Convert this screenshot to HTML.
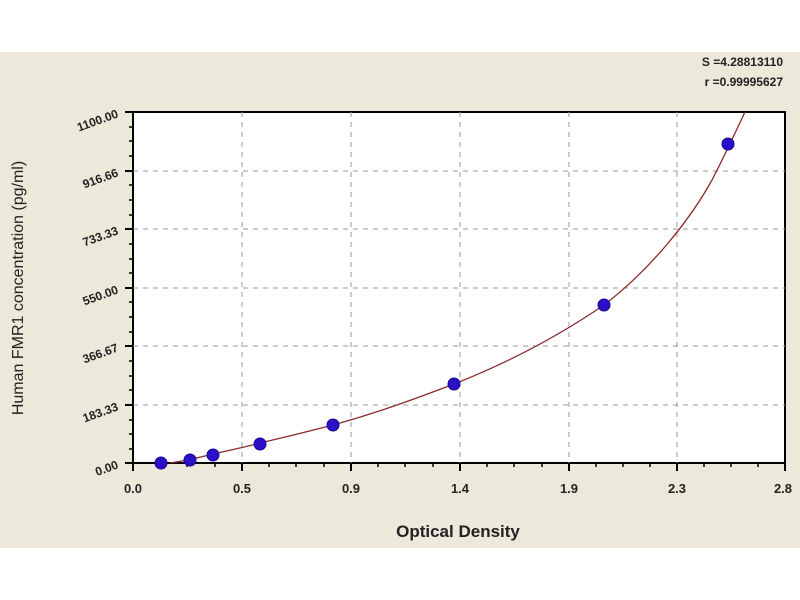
<!DOCTYPE html>
<html><head><meta charset="utf-8"><style>
html,body{margin:0;padding:0;background:#fff;}
svg{display:block;font-family:"Liberation Sans",sans-serif;}
</style></head><body>
<svg width="800" height="600" viewBox="0 0 800 600">
<rect x="0" y="52" width="800" height="496" fill="#ece8da"/>
<rect x="133" y="112" width="652" height="351" fill="#fff" stroke="#000" stroke-width="2"/>
<g stroke="#999" stroke-width="1" stroke-dasharray="5,5">
<line x1="242" y1="112" x2="242" y2="463"/><line x1="351" y1="112" x2="351" y2="463"/>
<line x1="460" y1="112" x2="460" y2="463"/><line x1="569" y1="112" x2="569" y2="463"/>
<line x1="677" y1="112" x2="677" y2="463"/>
<line x1="133" y1="171" x2="785" y2="171"/><line x1="133" y1="229" x2="785" y2="229"/>
<line x1="133" y1="288" x2="785" y2="288"/><line x1="133" y1="346" x2="785" y2="346"/>
<line x1="133" y1="405" x2="785" y2="405"/>
</g>
<g stroke="#000" stroke-width="2">
<line x1="133" y1="463" x2="133" y2="471"/><line x1="242" y1="463" x2="242" y2="471"/><line x1="351" y1="463" x2="351" y2="471"/><line x1="460" y1="463" x2="460" y2="471"/><line x1="569" y1="463" x2="569" y2="471"/><line x1="677" y1="463" x2="677" y2="471"/><line x1="785" y1="463" x2="785" y2="471"/>
<line x1="125" y1="112" x2="133" y2="112"/><line x1="125" y1="171" x2="133" y2="171"/><line x1="125" y1="229" x2="133" y2="229"/><line x1="125" y1="288" x2="133" y2="288"/><line x1="125" y1="346" x2="133" y2="346"/><line x1="125" y1="405" x2="133" y2="405"/><line x1="125" y1="463" x2="133" y2="463"/>
</g>
<g stroke="#000" stroke-width="1.5" id="mx">
<path d="M160 463v4M187 463v4M215 463v4M269 463v4M296 463v4M324 463v4M378 463v4M405 463v4M433 463v4M487 463v4M514 463v4M542 463v4M596 463v4M623 463v4M650 463v4M704 463v4M731 463v4M758 463v4"/>
<path d="M129 127h4M129 141h4M129 156h4M129 185h4M129 200h4M129 215h4M129 244h4M129 259h4M129 273h4M129 302h4M129 317h4M129 332h4M129 361h4M129 376h4M129 390h4M129 420h4M129 434h4M129 449h4"/>
</g>
<path d="M170 463 C190 460,205 456,213 454 C235 449,250 446,260 443 C290 436,310 431,333 425 C380 412,420 397,454 384 C510 362,560 335,604 305 C650 270,690 220,712 180 C725 155,735 133,745 112" fill="none" stroke="#8b2a2a" stroke-width="1.3"/>
<g fill="#2a10c8" stroke="#1a0890" stroke-width="1">
<circle cx="161" cy="463" r="6"/><circle cx="190" cy="460" r="6"/><circle cx="213" cy="455" r="6"/><circle cx="260" cy="444" r="6"/><circle cx="333" cy="425" r="6"/><circle cx="454" cy="384" r="6"/><circle cx="604" cy="305" r="6"/><circle cx="728" cy="144" r="6"/>
</g>
<g font-size="13" font-weight="bold" fill="#222" text-anchor="middle">
<text x="133" y="493">0.0</text><text x="242" y="493">0.5</text><text x="351" y="493">0.9</text><text x="460" y="493">1.4</text><text x="569" y="493">1.9</text><text x="677" y="493">2.3</text><text x="783" y="493">2.8</text>
</g>
<g font-size="12" font-weight="bold" fill="#222" text-anchor="end">
<text transform="translate(119,117) rotate(-20)">1100.00</text>
<text transform="translate(119,176) rotate(-20)">916.66</text>
<text transform="translate(119,234) rotate(-20)">733.33</text>
<text transform="translate(119,293) rotate(-20)">550.00</text>
<text transform="translate(119,351) rotate(-20)">366.67</text>
<text transform="translate(119,410) rotate(-20)">183.33</text>
<text transform="translate(119,468) rotate(-20)">0.00</text>
</g>
<text x="458" y="537" font-size="17" font-weight="bold" fill="#222" text-anchor="middle">Optical Density</text>
<text transform="translate(23,288) rotate(-90)" font-size="16" fill="#222" text-anchor="middle">Human FMR1 concentration (pg/ml)</text>
<g font-size="12" font-weight="bold" fill="#222" text-anchor="end">
<text x="783" y="66">S =4.28813110</text><text x="783" y="86">r =0.99995627</text>
</g>
</svg>
</body></html>
